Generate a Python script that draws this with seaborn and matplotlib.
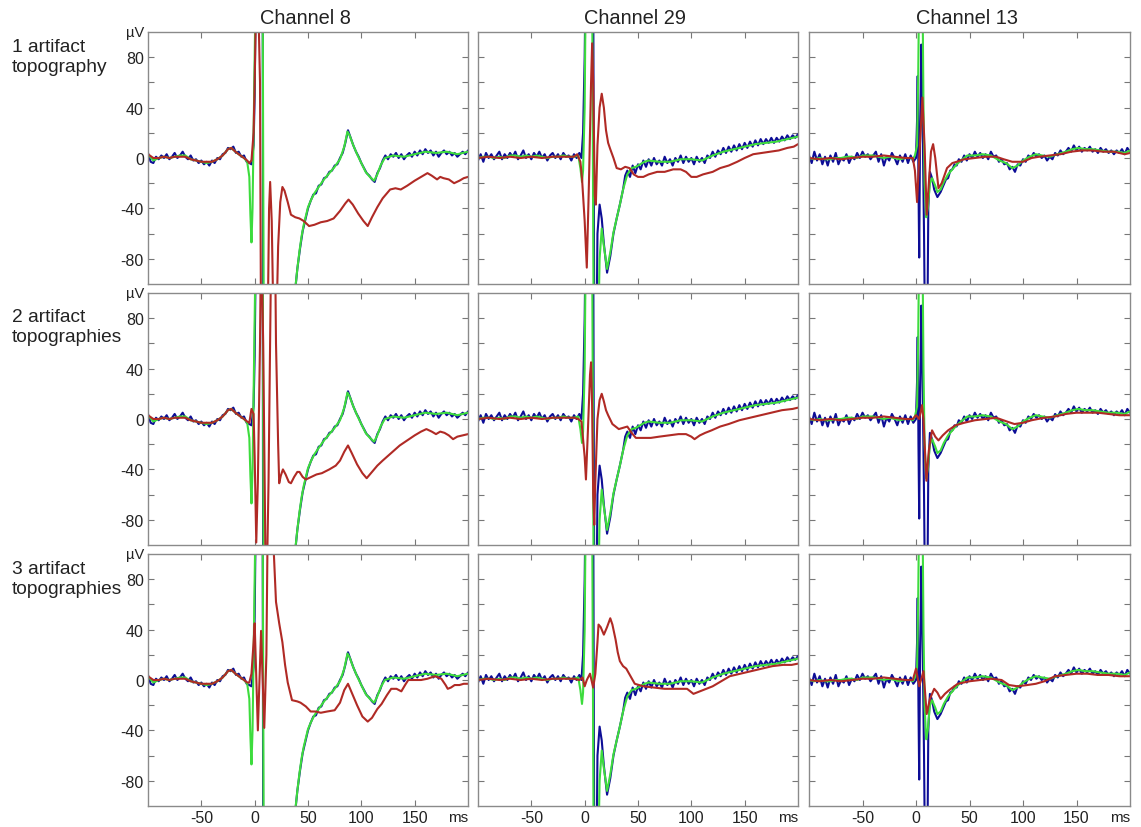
import matplotlib
matplotlib.use("Agg")
import matplotlib.pyplot as plt
import pandas as pd
import seaborn as sns

sns.set_theme(style="white")
plt.rcParams['font.family'] = ['Liberation Sans', 'DejaVu Sans']

# ---------------- data (ms, µV) ----------------
CHANNELS = ["Channel 8", "Channel 29", "Channel 13"]
ROW_LABELS = ["1 artifact\ntopography", "2 artifact\ntopographies", "3 artifact\ntopographies"]
X_TICKS = [-50, 0, 50, 100, 150]
Y_TICKS = [-80, -60, -40, -20, 0, 20, 40, 60, 80]
Y_TICK_LABELS = ["-80", "", "-40", "", "0", "", "40", "", "80"]

# Channel 8
CH8_BLUE = [(-100, 4), (-97.5, -3), (-95, -4), (-92.5, 1), (-90, -1), (-87.5, 2), (-85, 0), (-82.5, 3),
            (-80, -1), (-77.5, 1), (-75, 4), (-72.5, 0), (-70, 2), (-67.5, 5), (-65, 1), (-62.5, -1),
            (-60, 2), (-57.5, -2), (-55, -1), (-52.5, -4), (-50, -2), (-47.5, -5), (-45, -3), (-42.5, -6),
            (-40, -2), (-37.5, -4), (-35, 0), (-32.5, -1), (-30, 3), (-27.5, 4), (-25, 8), (-22.5, 7),
            (-20, 9), (-17.5, 4), (-15, 5), (-12.5, 1), (-10, 2), (-7.5, -3), (-5, -4), (-3, -5),
            (-1, 10), (0, 50), (1, 130), (7.5, 140), (8, -150), (37, -150),
            (38, -105), (40, -88), (42.5, -72), (45, -58), (47.5, -49), (50, -40), (52.5, -34), (55, -29),
            (57.5, -28), (60, -22), (62.5, -21), (65, -16), (67.5, -15), (70, -11), (72.5, -10), (75, -6),
            (77.5, -5), (80, 0), (82.5, 4), (85, 12), (87.5, 22), (90, 16), (92.5, 10), (95, 5),
            (97.5, 1), (100, -4), (102.5, -8), (105, -12), (107.5, -14), (110, -17), (112.5, -19), (115, -12),
            (117.5, -8), (120, -2), (122.5, 2), (125, -1), (127.5, 3), (130, 1), (132.5, 4), (135, 0),
            (137.5, 3), (140, -1), (142.5, 2), (145, 4), (147.5, 1), (150, 5), (152.5, 2), (155, 6),
            (157.5, 3), (160, 7), (162.5, 4), (165, 6), (167.5, 2), (170, 5), (172.5, 1), (175, 4),
            (177.5, 6), (180, 3), (182.5, 5), (185, 2), (187.5, 4), (190, 1), (192.5, 3), (195, 5),
            (197.5, 3), (200, 6)]
CH8_GREEN = [(-100, 3), (-95, -2), (-90, 0), (-85, 1), (-80, 0), (-75, 1), (-70, 2), (-65, 2), (-60, -1),
             (-55, -2), (-50, -3), (-45, -4), (-40, -3), (-35, -1), (-30, 2), (-25, 7), (-22, 8), (-18, 5),
             (-15, 3), (-10, 0), (-7, -3), (-5, -15), (-4, -45), (-3, -67), (-2, -40), (-1, 20), (0, 80),
             (1, 140), (7.5, 140), (8.5, -150), (37, -150), (38.5, -100), (40, -88), (42, -74), (44, -62),
             (46, -53), (48, -46), (50, -39), (53, -33), (56, -28), (60, -23), (65, -17), (70, -12),
             (75, -7), (80, -1), (84, 9), (87, 21), (89, 18), (92, 11), (96, 3), (100, -4), (104, -11),
             (108, -15), (112, -18), (115, -13), (118, -6), (122, 0), (130, 2), (140, 1), (150, 3),
             (160, 5), (170, 4), (180, 5), (190, 3), (200, 5)]
CH8_RED_PRE = [(-100, 3), (-95, 0), (-90, 0), (-85, 1), (-80, 0), (-75, 1), (-70, 1), (-65, 1), (-60, -1),
               (-55, -2), (-50, -3), (-45, -3), (-40, -3), (-35, -1), (-30, 2), (-25, 7), (-22, 8),
               (-18, 5), (-15, 3), (-10, 0), (-7, -2)]
CH8_RED_1 = [(-5, -4), (-3, -2), (-1, 20), (0, 60), (1, 110), (3, 140), (5, 60), (6, -150), (12, -150),
             (13.5, -40), (14.5, -19), (16, -50), (18, -150), (20, -150), (22, -70), (24, -35), (26, -23),
             (28, -26), (31, -35), (34, -45), (38, -47), (42, -48), (46, -50), (51, -54), (56, -53),
             (62, -51), (68, -50), (74, -48), (80, -42), (85, -36), (88, -33), (92, -37), (97, -44),
             (102, -50), (106, -54), (110, -47), (115, -39), (120, -32), (127, -25), (132, -24),
             (137, -25), (143, -22), (150, -18), (156, -15), (162, -12), (166, -14), (171, -17),
             (174, -15), (177, -16), (182, -17), (187, -20), (192, -18), (196, -16), (200, -15)]
CH8_RED_2 = [(-5, -3), (-3, 8), (-1, 4), (0, -30), (1.5, -98), (3, -50), (5, 60), (6, 150), (8, 60),
             (10, -100), (11, -150), (13, -50), (15, 100), (16, 150), (19, 150), (20, 60), (22, -20),
             (23, -51), (24.5, -45), (26.5, -40), (29, -44), (32, -50), (34, -51), (37, -46), (40, -42),
             (42, -42), (45, -46), (48, -48), (53, -46), (58, -44), (63, -43), (70, -40), (76, -37),
             (80, -33), (84, -26), (87.5, -21), (91, -27), (96, -36), (101, -43), (105, -47), (110, -42),
             (115, -37), (120, -33), (128, -27), (136, -21), (143, -17), (150, -13), (156, -10),
             (161, -8), (166, -10), (170, -12), (174, -10), (178, -11), (182, -13), (186, -16),
             (190, -14), (195, -13), (200, -12)]
CH8_RED_3 = [(-5, -2), (-3, 5), (-1, 30), (0, 45), (3, -40), (6, 39), (9, -38), (11, 20), (12.5, 150),
             (17, 150), (18, 100), (20, 62), (23, 45), (26, 30), (28.5, 12), (31, -2), (35, -16),
             (40, -17), (43, -18), (48, -21), (52.5, -25), (57, -25), (62, -26), (68, -25), (75, -24),
             (80, -18), (84, -8), (87.5, -3), (91, -10), (96, -20), (101, -29), (106, -33), (110, -30),
             (115, -23), (119, -19), (124, -12), (128, -7), (133, -7), (137.5, -9), (141, -4), (144, 0),
             (150, 0), (156, 0), (162, 1), (169, 3), (175, 1), (179, -4), (181, -7), (184, -6),
             (187.5, -4), (192, -4), (196, -3), (200, -3)]

# Channel 29
CH29_BLUE = [(-100, -2), (-97.5, 3), (-95, -3), (-92.5, 4), (-90, 0), (-87.5, 3), (-85, -1), (-82.5, 2),
             (-80, 5), (-77.5, -1), (-75, 3), (-72.5, 0), (-70, 4), (-67.5, 1), (-65, 5), (-62.5, -1),
             (-60, 2), (-57.5, 6), (-55, 0), (-52.5, 3), (-50, -1), (-47.5, 4), (-45, 1), (-42.5, 5),
             (-40, 0), (-37.5, 3), (-35, -2), (-32.5, 2), (-30, 4), (-27.5, 0), (-25, 3), (-22.5, -1),
             (-20, 4), (-17.5, 1), (-15, 2), (-12.5, -2), (-10, 3), (-7.5, 0), (-5, 4), (-3, 0),
             (-1.5, 20), (0, 80), (1, 150), (8, 150), (9, -150), (11, -150), (12, -60), (14, -37),
             (16, -48), (18, -68), (21, -91), (24, -78), (27, -60), (30, -48), (33, -37), (36, -25),
             (38, -14), (40, -10), (42.5, -15), (45, -6), (47.5, -12), (50, -5), (52.5, -9), (55, -2),
             (57.5, -7), (60, -1), (62.5, -6), (65, 0), (67.5, -5), (70, -2), (72.5, -6), (75, 1),
             (77.5, -4), (80, -1), (82.5, -6), (85, 0), (87.5, -3), (90, 2), (92.5, -4), (95, 1),
             (97.5, -3), (100, 0), (102.5, -5), (105, 1), (107.5, -3), (110, 0), (112.5, -4), (115, 2),
             (117.5, 0), (120, 5), (122.5, 1), (125, 6), (127.5, 3), (130, 8), (132.5, 4), (135, 9),
             (137.5, 5), (140, 10), (142.5, 6), (145, 11), (147.5, 7), (150, 12), (152.5, 8), (155, 13),
             (157.5, 9), (160, 14), (162.5, 10), (165, 15), (167.5, 11), (170, 15), (172.5, 12),
             (175, 16), (177.5, 12), (180, 16), (182.5, 13), (185, 17), (187.5, 14), (190, 18),
             (192.5, 15), (195, 18), (197.5, 16), (200, 19)]
CH29_GREEN = [(-100, 0), (-95, 1), (-90, 1), (-85, 0), (-80, 1), (-75, 0), (-70, 2), (-65, 2), (-60, 1),
              (-55, 2), (-50, 1), (-45, 2), (-40, 1), (-35, 0), (-30, 1), (-25, 1), (-20, 2), (-15, 1),
              (-10, 1), (-6, 2), (-4, -8), (-2.5, -19), (-1.5, -10), (0, 40), (1, 140), (7, 140),
              (8.5, -150), (12.5, -150), (14, -80), (16, -56), (18, -70), (21, -88), (24, -75), (27, -59),
              (30, -48), (33, -37), (36, -25), (40, -13), (44, -8), (48, -7), (52, -5), (56, -3),
              (60, -2), (70, -3), (80, -3), (90, -1), (100, -1), (110, -2), (120, 2), (130, 5), (140, 7),
              (150, 9), (160, 11), (170, 12), (180, 13), (190, 15), (200, 17)]
CH29_RED_PRE = [(-100, 0), (-90, 1), (-80, 0), (-70, 1), (-60, 0), (-50, 1), (-40, 0), (-30, 1), (-20, 1),
                (-10, 1)]
CH29_RED_1 = [(-7, 3), (-4, -3), (-2.5, -16), (0, -50), (2, -87), (4, -20), (6, 60), (7, 91), (8, 60),
              (9.5, -30), (10.5, -37), (12, 10), (14, 40), (16, 51), (18, 40), (20, 22), (22, 12), (24, 7),
              (27, 0), (30, -8), (34, -9), (38, -7), (42, -8), (46, -13), (50, -15), (55, -15), (60, -13),
              (68, -11), (75, -11), (83, -9), (90, -9), (95, -11), (100, -15), (105, -15), (111, -13),
              (120, -11), (127, -8), (135, -6), (143, -3), (150, 0), (158, 3), (166, 4), (174, 5),
              (182, 6), (190, 8), (196, 9), (200, 11)]
CH29_RED_2 = [(-6, 0), (-3, -2), (0, -30), (1.2, -48), (3, -10), (5, 35), (6, 45), (7, 10), (8, -60),
              (9, -84), (10, -50), (12, 0), (14, 15), (16, 20), (18, 14), (20, 7), (22, 3), (26, -4),
              (32, -8), (36, -7), (40, -6), (44, -11), (48, -15), (55, -15), (62, -15), (70, -14),
              (79, -13), (88, -12), (95, -12), (100, -14), (103, -16), (108, -13), (113, -11), (119, -9),
              (127, -6), (135, -4), (145, -1), (155, 1), (165, 3), (175, 5), (185, 7), (195, 8), (200, 9)]
CH29_RED_3 = [(-5, 0), (-2, 2), (0, -5), (2, 0), (5, 5), (8, -6), (10, 5), (12, 30), (13, 44), (15, 42),
              (18, 36), (21, 42), (24, 49), (26, 44), (29, 32), (31, 22), (33, 15), (36, 11), (39, 9),
              (43, 3), (47, -3), (55, -5), (65, -6), (75, -7), (85, -7), (96, -7), (102, -11), (108, -9),
              (114, -7), (120, -5), (128, -1), (136, 3), (146, 5), (156, 7), (166, 9), (176, 11),
              (186, 12), (194, 12), (200, 13)]

# Channel 13
CH13_BLUE = [(-100, 2), (-97.5, -4), (-95, 5), (-92.5, -2), (-90, 3), (-87.5, -5), (-85, 1), (-82.5, -6),
             (-80, 2), (-77.5, -3), (-75, 4), (-72.5, -5), (-70, 0), (-67.5, -2), (-65, 3), (-62.5, -4),
             (-60, 1), (-57.5, -1), (-55, 4), (-52.5, 0), (-50, 5), (-47.5, 1), (-45, 3), (-42.5, -1),
             (-40, 2), (-37.5, 5), (-35, -3), (-32.5, 3), (-30, -6), (-27.5, 1), (-25, -2), (-22.5, 4),
             (-20, 0), (-17.5, -5), (-15, 2), (-12.5, -3), (-10, 3), (-7.5, -4), (-5, 2), (-2.5, -3),
             (0, 0), (1, 30), (1.6, 65), (2.3, -20), (3, -79), (3.8, 20), (5, 90), (6, 40), (7.5, -60),
             (8.5, -150), (10.5, -150), (11.5, -40), (13, -11), (15, -16), (17, -25), (20, -31), (23, -27),
             (26, -21), (28, -17), (30, -16), (32, -10), (34, -9), (36, -5), (38, -6), (40, -1),
             (42.5, -3), (45, 2), (47.5, -2), (50, 3), (52.5, 0), (55, 5), (57.5, 1), (60, 4), (62.5, 0),
             (65, 3), (67.5, -1), (70, 5), (72.5, 1), (75, 2), (77.5, -3), (80, -1), (82.5, -5), (85, -4),
             (87.5, -9), (90, -7), (92.5, -11), (95, -5), (97.5, -6), (100, -1), (102.5, -3), (105, 2),
             (107.5, 0), (110, 4), (112.5, 1), (115, 3), (117.5, 0), (120, 2), (122.5, -2), (125, 1),
             (127.5, -1), (130, 4), (132.5, 2), (135, 6), (137.5, 3), (140, 5), (142.5, 8), (145, 5),
             (147.5, 10), (150, 6), (152.5, 9), (155, 5), (157.5, 8), (160, 6), (162.5, 9), (165, 5),
             (167.5, 7), (170, 4), (172.5, 8), (175, 5), (177.5, 7), (180, 4), (182.5, 6), (185, 3),
             (187.5, 6), (190, 4), (192.5, 7), (195, 3), (197.5, 8), (200, 5)]
CH13_GREEN = [(-100, 0), (-95, -1), (-90, 0), (-85, -1), (-80, -1), (-75, 0), (-70, 0), (-65, 1), (-60, 1),
              (-55, 0), (-50, 2), (-45, 2), (-40, 2), (-35, 1), (-30, 0), (-25, 1), (-20, 0), (-15, -1),
              (-10, 0), (-5, 0), (-3, -1), (-1, 2), (1, 10), (2, 60), (3, 140), (6, 140), (7, 40),
              (8, -20), (9.5, -47), (11, -40), (13, -20), (15, -16), (18, -22), (20, -27), (23, -25),
              (26, -19), (30, -13), (34, -9), (38, -5), (42, -2), (48, 2), (55, 2), (62, 3), (70, 2),
              (78, -2), (84, -4), (90, -8), (95, -6), (100, -2), (106, 1), (112, 3), (118, 2), (125, 1),
              (132, 3), (140, 5), (146, 7), (152, 8), (158, 7), (165, 7), (172, 6), (180, 5), (188, 5),
              (195, 4), (200, 6)]
CH13_RED_PRE = [(-100, 0), (-90, -1), (-80, 0), (-70, -1), (-60, 0), (-50, 1), (-40, 1), (-30, 2), (-20, 1),
                (-10, 0)]
CH13_RED_1 = [(-3, 0), (-1, -10), (1, -35), (3, 0), (6, 48), (8, 10), (10, -45), (12, -20), (14, 5),
              (16, 11), (18, 0), (21, -24), (24, -20), (29, -8), (34, -4), (38, -3), (45, -1), (55, 0),
              (65, 1), (75, 1), (82, -1), (90, -3), (100, -3), (108, 0), (115, 1), (125, 2), (135, 3),
              (145, 5), (155, 6), (165, 6), (175, 5), (185, 5), (195, 3), (200, 4)]
CH13_RED_2 = [(-3, 0), (0, 3), (3, 0), (5.6, 11), (7, 0), (9.7, -49), (12, -25), (15, -9), (18, -14),
              (21, -17), (25, -13), (30, -9), (37, -5), (45, -3), (55, -1), (65, 0), (75, 1), (85, -2),
              (92, -4), (100, -3), (108, -1), (120, 1), (130, 2), (140, 4), (150, 5), (160, 5), (170, 5),
              (180, 4), (190, 3), (200, 3)]
CH13_RED_3 = [(-3, 0), (0, 9), (3, -5), (7, 7), (10, -27), (13, -15), (17, -7), (20, -10), (23, -15),
              (27, -11), (31, -8), (39, -3), (50, -1), (60, 0), (70, 1), (80, 0), (87, -4), (95, -5),
              (104, -4), (112, -3), (120, -1), (130, 3), (140, 4), (150, 5), (160, 5), (170, 4), (180, 4),
              (190, 3), (200, 3)]

BLUES = [CH8_BLUE, CH29_BLUE, CH13_BLUE]
GREENS = [CH8_GREEN, CH29_GREEN, CH13_GREEN]
REDS = [[CH8_RED_PRE + CH8_RED_1, CH8_RED_PRE + CH8_RED_2, CH8_RED_PRE + CH8_RED_3],
        [CH29_RED_PRE + CH29_RED_1, CH29_RED_PRE + CH29_RED_2, CH29_RED_PRE + CH29_RED_3],
        [CH13_RED_PRE + CH13_RED_1, CH13_RED_PRE + CH13_RED_2, CH13_RED_PRE + CH13_RED_3]]

# ---------------- styling / layout ----------------
C_BLUE = "#0d0d96"
C_GREEN = "#3ddc3d"
C_RED = "#b02a25"
W, H = 1141, 828
COL_LEFT = [148, 478, 809]
COL_W = [320, 320, 321]
ROW_TOP = [33, 294, 555]
ROW_H = 252
ROW_LABEL_Y = [39, 309, 561]

fig = plt.figure(figsize=(W / 100, H / 100), dpi=100)
fig.patch.set_facecolor("white")

for r in range(3):
    for c in range(3):
        ax = fig.add_axes([COL_LEFT[c] / W, 1 - (ROW_TOP[r] + ROW_H) / H, COL_W[c] / W, ROW_H / H])
        ax.set_facecolor("white")
        for pts, col, lw in [(BLUES[c], C_BLUE, 1.5), (GREENS[c], C_GREEN, 1.5), (REDS[c][r], C_RED, 1.5)]:
            df = pd.DataFrame(pts, columns=["ms", "uV"])
            sns.lineplot(data=df, x="ms", y="uV", ax=ax, color=col, linewidth=lw,
                         estimator=None, sort=False, legend=False)
        ax.set_xlim(-100, 200)
        ax.set_ylim(-100, 100)
        ax.set_xlabel("")
        ax.set_ylabel("")
        ax.set_xticks(X_TICKS)
        ax.set_yticks(Y_TICKS)
        ax.tick_params(direction="in", length=4, width=0.8, color="#777777",
                       top=True, bottom=True, left=True, right=True,
                       labelsize=11.5, labelcolor="#222222", pad=3)
        if r == 2:
            ax.set_xticklabels([str(v) for v in X_TICKS])
            ax.text(1.0, -0.014, "ms", transform=ax.transAxes, ha="right", va="top",
                    fontsize=11, color="#222222")
        else:
            ax.set_xticklabels([])
        if c == 0:
            ax.set_yticklabels(Y_TICK_LABELS)
            ax.text(-0.012, 1.0, "µV", transform=ax.transAxes, ha="right", va="center",
                    fontsize=10.5, color="#222222")
        else:
            ax.set_yticklabels([])
        for s in ax.spines.values():
            s.set_color("#8a8a8a")
            s.set_linewidth(1.0)
            s.set_visible(True)
        if r == 0:
            fig.text((COL_LEFT[c] + COL_W[c] / 2 - 3) / W, 1 - 18 / H, CHANNELS[c],
                     ha="center", va="center", fontsize=14.4, color="#222222")
    fig.text(12 / W, 1 - ROW_LABEL_Y[r] / H, ROW_LABELS[r], ha="left", va="top",
             fontsize=13.8, color="#222222", linespacing=1.25)

fig.savefig("out.png", dpi=100, facecolor="white")
